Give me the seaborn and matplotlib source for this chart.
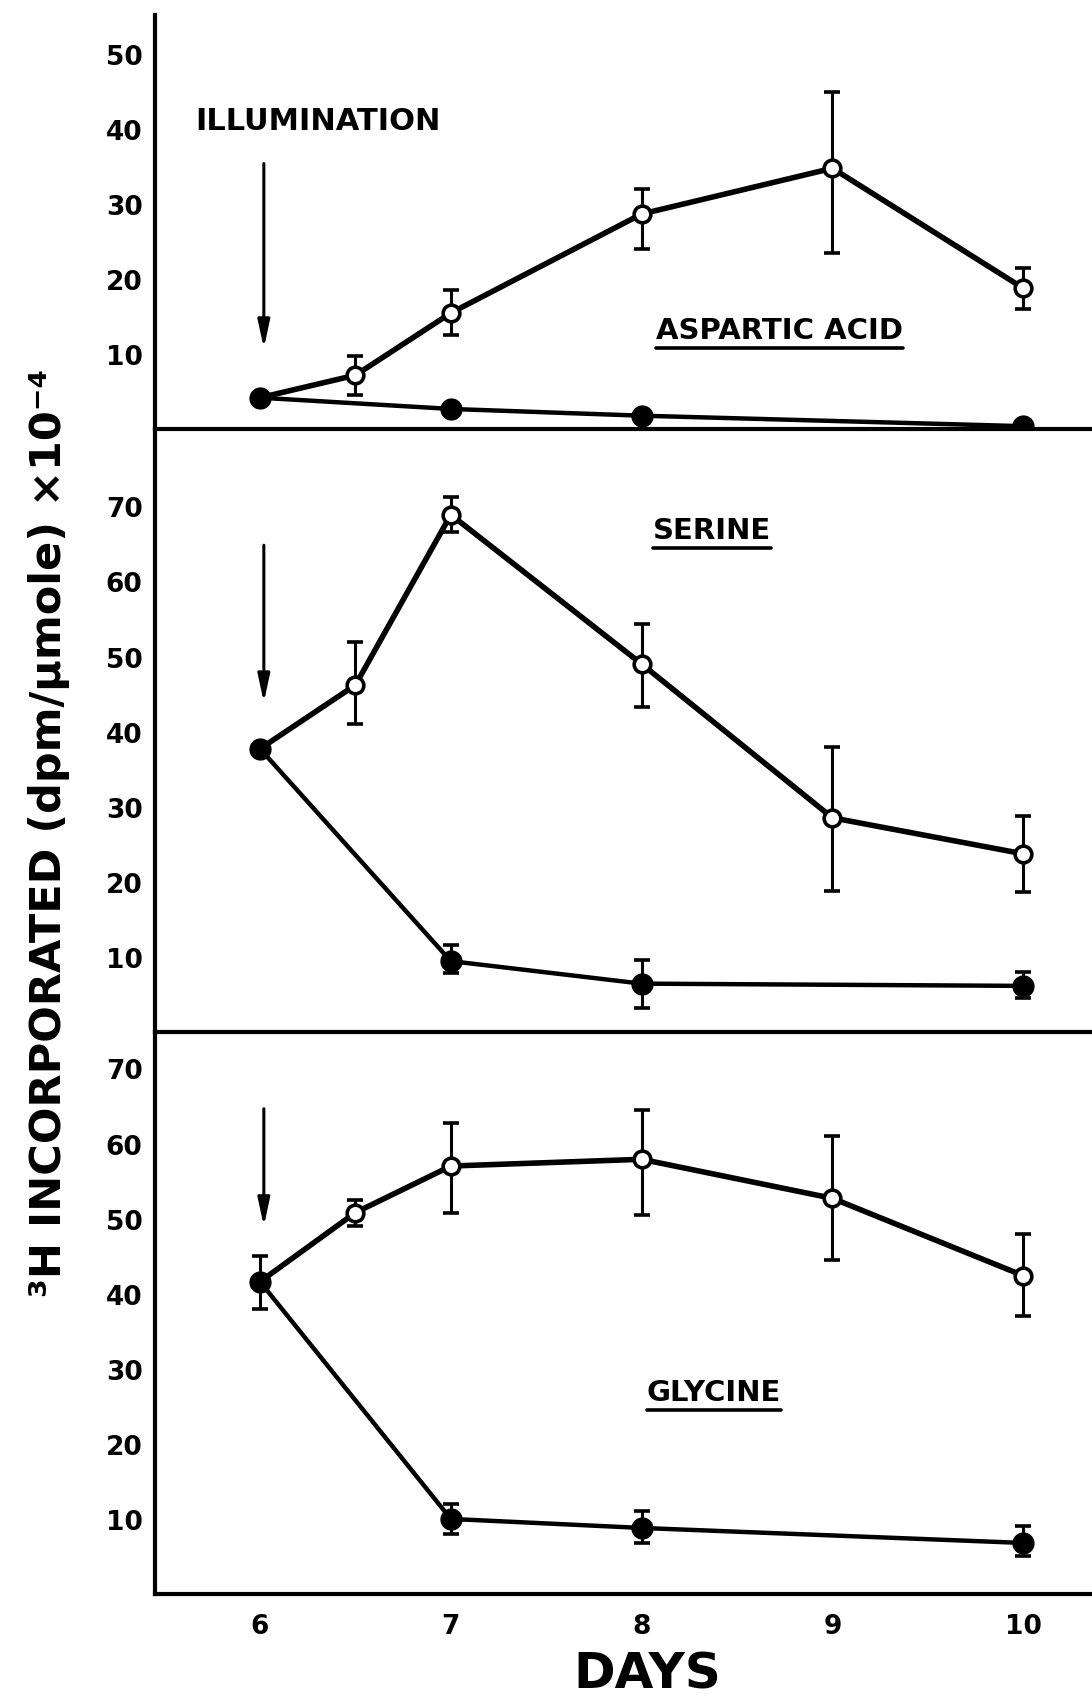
import matplotlib
matplotlib.use("Agg")
import matplotlib.pyplot as plt
import seaborn as sns
import pandas as pd

sns.set_theme(style="white")
plt.rcParams['font.family'] = ['DejaVu Sans']
plt.rcParams['text.color'] = 'black'
plt.rcParams['xtick.color'] = 'black'
plt.rcParams['ytick.color'] = 'black'

# ---------------- data ----------------
days_open = [6, 6.5, 7, 8, 9, 10]
days_filled = [6, 7, 8, 10]

# Aspartic acid
asp_open = [4.2, 7.2, 15.5, 28.7, 34.8, 18.8]
asp_open_hi = [4.2, 9.7, 18.5, 32.0, 45.0, 21.5]
asp_open_lo = [4.2, 4.6, 12.5, 24.0, 23.5, 16.0]
asp_filled = [4.2, 2.7, 1.8, 0.4]
asp_filled_hi = [4.2, 2.7, 1.8, 0.4]
asp_filled_lo = [4.2, 2.7, 1.8, 0.4]

# Serine
ser_open = [37.7, 46.2, 68.9, 49.0, 28.5, 23.7]
ser_open_hi = [37.7, 52.0, 71.3, 54.3, 38.0, 28.8]
ser_open_lo = [37.7, 41.0, 66.6, 43.3, 18.8, 18.6]
ser_filled = [37.7, 9.4, 6.4, 6.1]
ser_filled_hi = [37.7, 11.5, 9.5, 8.0]
ser_filled_lo = [37.7, 7.8, 3.2, 4.5]

# Glycine
gly_open = [41.6, 50.8, 57.0, 57.9, 52.7, 42.4]
gly_open_hi = [41.6, 52.5, 62.8, 64.5, 61.0, 48.0]
gly_open_lo = [41.6, 49.0, 50.8, 50.5, 44.5, 37.0]
gly_filled = [41.6, 10.0, 8.8, 6.8]
gly_filled_hi = [45.0, 12.0, 11.0, 9.0]
gly_filled_lo = [38.0, 8.0, 6.8, 5.0]

panel_names = ["ASPARTIC ACID", "SERINE", "GLYCINE"]
y_ticks = [[10, 20, 30, 40, 50], [10, 20, 30, 40, 50, 60, 70], [10, 20, 30, 40, 50, 60, 70]]
y_limits = [(0, 55.2), (0, 80.3), (0, 74.9)]
x_ticks = [6, 7, 8, 9, 10]
x_tick_labels = ["6", "7", "8", "9", "10"]
x_label = "DAYS"
y_label = "³H INCORPORATED (dpm/μmole) ×10⁻⁴"
illum_label = "ILLUMINATION"

# label positions (data coords)
name_pos = [(8.72, 11.3), (8.37, 65.0), (8.38, 25.0)]
arrow_from = [35.8, 65.2, 65.0]
arrow_to = [10.4, 43.5, 48.6]

# ---------------- figure ----------------
fig = plt.figure(figsize=(10.92, 16.99), dpi=100)
left, right = 0.142, 1.0
bounds = [(0.7468, 0.9904), (0.3922, 0.7468), (0.0612, 0.3922)]
axes = [fig.add_axes([left, b, right - left, t - b]) for b, t in bounds]

series = [
    (asp_open, asp_open_lo, asp_open_hi, asp_filled, asp_filled_lo, asp_filled_hi),
    (ser_open, ser_open_lo, ser_open_hi, ser_filled, ser_filled_lo, ser_filled_hi),
    (gly_open, gly_open_lo, gly_open_hi, gly_filled, gly_filled_lo, gly_filled_hi),
]

LW = 3.2
for i, (ax, (o, olo, ohi, f, flo, fhi)) in enumerate(zip(axes, series)):
    df_o = pd.DataFrame({"day": days_open, "val": o})
    df_f = pd.DataFrame({"day": days_filled, "val": f})
    # error bars
    ax.errorbar(days_open[1:], o[1:],
                yerr=[[a - b for a, b in zip(o[1:], olo[1:])], [b - a for a, b in zip(o[1:], ohi[1:])]],
                fmt="none", ecolor="black", elinewidth=2.2, capsize=6, capthick=2.6, zorder=2)
    ax.errorbar(days_filled, f,
                yerr=[[a - b for a, b in zip(f, flo)], [b - a for a, b in zip(f, fhi)]],
                fmt="none", ecolor="black", elinewidth=2.2, capsize=6, capthick=2.6, zorder=2)
    sns.lineplot(data=df_o, x="day", y="val", ax=ax, color="black", lw=LW + 0.8,
                 zorder=3, legend=False)
    sns.lineplot(data=df_f, x="day", y="val", ax=ax, color="black", lw=LW,
                 zorder=3, legend=False)
    ax.plot(days_open[1:], o[1:], "o", ms=12, mfc="white", mec="black", mew=2.6, zorder=4,
            clip_on=False)
    ax.plot(days_filled, f, "o", ms=15, mfc="black", mec="black", zorder=4, clip_on=True)

    ax.set_xlim(5.45, 10.36)
    ax.set_ylim(*y_limits[i])
    ax.set_yticks(y_ticks[i])
    ax.set_yticklabels([str(t) for t in y_ticks[i]], fontsize=19, fontweight="bold")
    ax.set_xticks(x_ticks)
    if i == 2:
        ax.set_xticklabels(x_tick_labels, fontsize=19, fontweight="bold")
    else:
        ax.set_xticklabels([])
    ax.tick_params(axis="y", direction="in", length=15, width=2.4, pad=9, colors="black")
    ax.tick_params(axis="x", direction="in", length=17, width=2.4, pad=14, colors="black")
    for s in ["top", "right"]:
        ax.spines[s].set_visible(False)
    for s in ["left", "bottom"]:
        ax.spines[s].set_linewidth(3.0)
        ax.spines[s].set_color("black")
    ax.set_xlabel("")
    ax.set_ylabel("")
    ax.patch.set_alpha(0)

    # illumination arrow
    ax.annotate("", xy=(6.02, arrow_to[i]), xytext=(6.02, arrow_from[i]),
                arrowprops=dict(arrowstyle="-|>,head_length=1.4,head_width=0.3",
                                color="black", lw=2.2))
    # panel name (underlined)
    nx, ny = name_pos[i]
    ax.text(nx, ny, panel_names[i], ha="center", va="bottom", fontsize=21,
            fontweight="bold", color="black")

axes[0].text(5.66, 41.2, illum_label, ha="left", va="center", fontsize=22,
             fontweight="bold", color="black")

# underline panel names
fig.canvas.draw()
renderer = fig.canvas.get_renderer()
for ax in axes:
    for t in ax.texts:
        if t.get_text() in panel_names:
            bb = t.get_window_extent(renderer)
            inv = fig.transFigure.inverted()
            (x0, y0), (x1, y1) = inv.transform([[bb.x0, bb.y0 - 4], [bb.x1, bb.y0 - 4]])
            fig.add_artist(plt.Line2D([x0, x1], [y0, y0], color="black", lw=2.6,
                                      transform=fig.transFigure))

fig.text(0.045, 0.51, y_label, rotation=90, ha="center", va="center", fontsize=31,
         fontweight="bold", color="black")
fig.text(0.593, 0.0147, x_label, ha="center", va="center", fontsize=36, fontweight="bold",
         color="black")

fig.savefig("out.png", dpi=100, facecolor="white")
